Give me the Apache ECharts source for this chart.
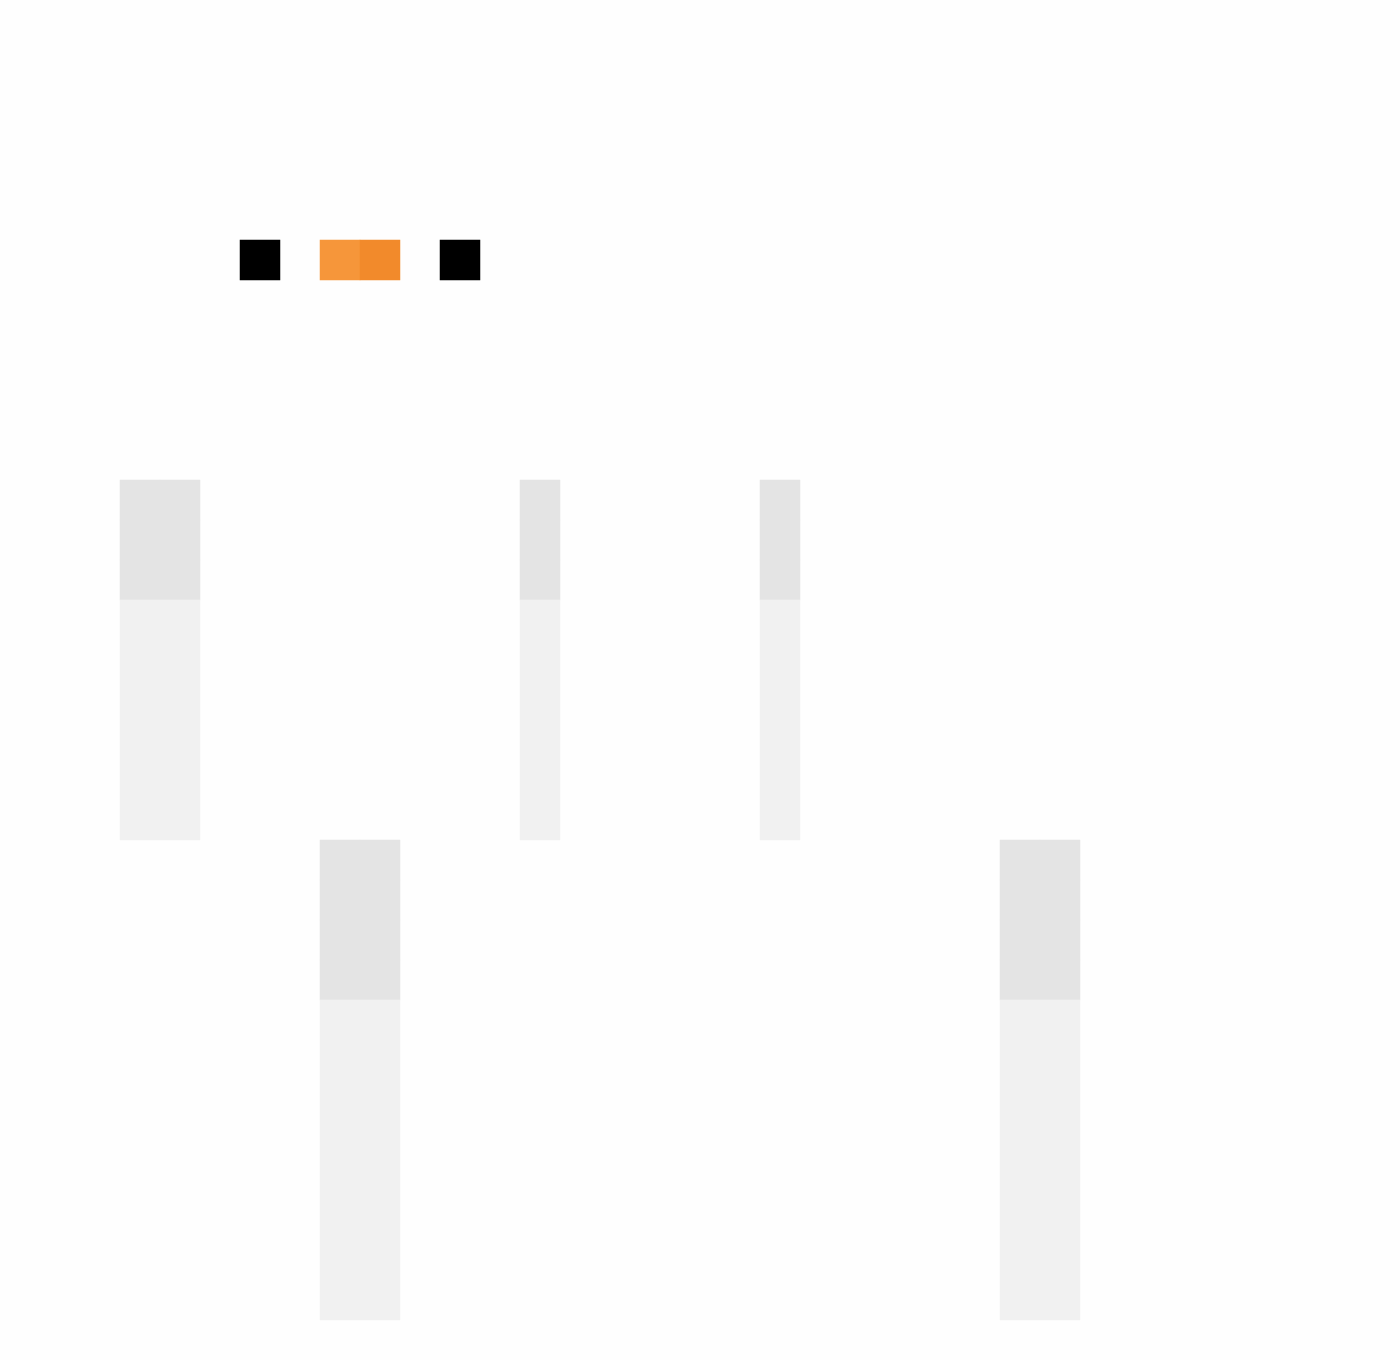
<!DOCTYPE html>
<html>
<head>
<meta charset="utf-8">
<title>Cells</title>
<script src="https://cdn.jsdelivr.net/npm/echarts@6/dist/echarts.min.js"></script>
<style>
    html, body { margin: 0; padding: 0; background: #fefefe; }
    #chart { width: 1400px; height: 1360px; }
</style>
</head>
<body>
<div id="chart"></div>
<script>
// grid of 35 x 34 cells
const colCount = 35;
const rowCount = 34;

// top row of swatches: column, row, colour code
const swatchCols = [6, 8, 9, 11];
const swatchRow = 6;
const swatchCodes = [1, 2, 3, 1];

// vertical strips: start column, top row, dark cells, light cells
const stripCols = [3, 4, 13, 19, 8, 9, 25, 26];
const stripTop = [12, 12, 12, 12, 21, 21, 21, 21];
const stripDark = [3, 3, 3, 3, 4, 4, 4, 4];
const stripLight = [6, 6, 6, 6, 8, 8, 8, 8];

const xCats = Array.from({ length: colCount }, (_, i) => String(i));
const yCats = Array.from({ length: rowCount }, (_, i) => String(i));

const cells = [];
swatchCols.forEach((c, i) => cells.push([c, swatchRow, swatchCodes[i]]));
stripCols.forEach((c, i) => {
    for (let r = 0; r < stripDark[i]; r++) cells.push([c, stripTop[i] + r, 4]);
    for (let r = 0; r < stripLight[i]; r++) cells.push([c, stripTop[i] + stripDark[i] + r, 5]);
});

const myChart = echarts.init(document.getElementById('chart'));

myChart.setOption({
    backgroundColor: '#fefefe',
    animation: false,
    grid: { left: 0, right: 0, top: 0, bottom: 0 },
    xAxis: { type: 'category', data: xCats, show: false },
    yAxis: { type: 'category', data: yCats, show: false, inverse: true },
    visualMap: {
        type: 'piecewise',
        show: false,
        dimension: 2,
        pieces: [
            { value: 1, color: '#000000' },
            { value: 2, color: '#f6963a' },
            { value: 3, color: '#f28a2b' },
            { value: 4, color: '#e4e4e4' },
            { value: 5, color: '#f1f1f1' }
        ]
    },
    series: [
        {
            type: 'heatmap',
            data: cells,
            itemStyle: { borderWidth: 0 },
            emphasis: { disabled: true }
        }
    ]
});
</script>
</body>
</html>
